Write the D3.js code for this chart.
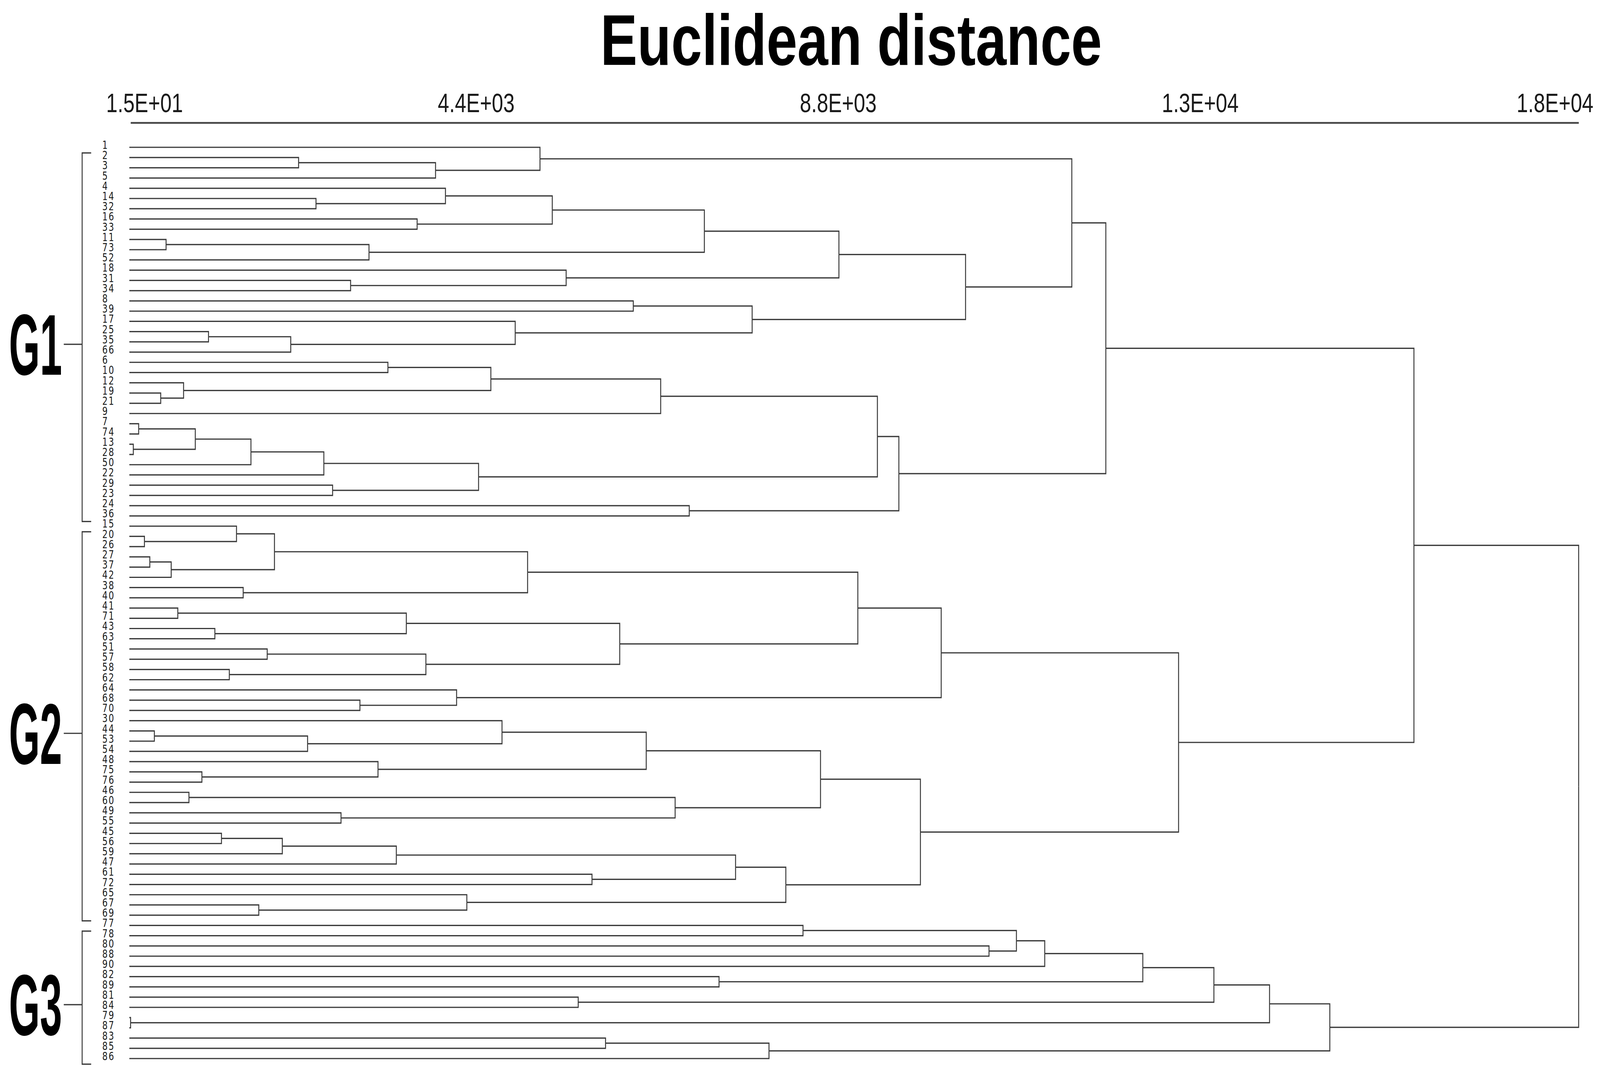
<!DOCTYPE html>
<meta charset="utf-8">
<style>
html, body { margin: 0; padding: 0; background: #fff; overflow: hidden; }
svg { display: block; width: 100vw; height: 100vh; }
.link { fill: none; stroke: #3a3a3a; stroke-width: 3.2; }
.bracket { fill: none; stroke: #3a3a3a; stroke-width: 3.2; }
.axis path { stroke: #444; stroke-width: 4.5; }
.axis text { font-family: "Liberation Sans", Arial, sans-serif; font-size: 68px; fill: #1a1a1a; }
.leaf { font-family: "DejaVu Sans", sans-serif; font-size: 28px; fill: #1a1a1a; letter-spacing: 3px; }
.title { font-family: "Liberation Sans", Arial, sans-serif; font-weight: bold; font-size: 184px; fill: #000; }
.group { font-family: "Liberation Sans", Arial, sans-serif; font-weight: bold; font-size: 220px; fill: #000; }
</style>
<body>
<script src="https://d3js.org/d3.v7.min.js"></script>
<script>
// leaf order, top to bottom
var leafLabels = [1, 2, 3, 5, 4, 14, 32, 16, 33, 11, 73, 52, 18, 31, 34, 8, 39, 17, 25, 35,
  66, 6, 10, 12, 19, 21, 9, 7, 74, 13, 28, 50, 22, 29, 23, 24, 36,
  15, 20, 26, 27, 37, 42, 38, 40, 41, 71, 43, 63, 51, 57, 58, 62, 64, 68, 70,
  30, 44, 53, 54, 48, 75, 76, 46, 60, 49, 55, 45, 56, 59, 47, 61, 72, 65, 67, 69,
  77, 78, 80, 88, 90, 82, 89, 81, 84, 79, 87, 83, 85, 86];

// merges: [child a, child b, distance]; "cN" = result of merge N
var merges = [
  [2, 3, 2050], ["c0", 5, 3709], [1, "c1", 4974], [14, 32, 2261], [4, "c3", 3829],
  [16, 33, 3486], ["c4", "c5", 5123], [11, 73, 445], ["c7", 52, 2903], ["c6", "c8", 6965],
  [31, 34, 2680], [18, "c10", 5291], ["c9", "c11", 8595], [8, 39, 6104], [25, 35, 959],
  ["c14", 66, 1955], [17, "c15", 4674], ["c13", "c16", 7544], ["c12", "c17", 10129], ["c2", "c18", 11416],
  [6, 10, 3132], [19, 21, 380], [12, "c21", 657], ["c20", "c22", 4379], ["c23", 9, 6436],
  [7, 74, 113], [13, 28, 48], ["c25", "c26", 799], ["c27", 50, 1473], ["c28", 22, 2356],
  [29, 23, 2462], ["c29", "c30", 4230], ["c24", "c31", 9061], [24, 36, 6782], ["c32", "c33", 9321],
  ["c19", "c34", 11828],
  [20, 26, 183], [15, "c36", 1298], [27, 37, 248], ["c38", 42, 507], ["c37", "c39", 1758],
  [38, 40, 1379], ["c40", "c41", 4824], [41, 71, 587], [43, 63, 1036], ["c43", "c44", 3355],
  [51, 57, 1670], [58, 62, 1211], ["c46", "c47", 3592], ["c45", "c48", 5940], ["c42", "c49", 8824],
  [68, 70, 2793], [64, "c51", 3964], ["c50", "c52", 9834], [44, 53, 303], ["c54", 54, 2159],
  [30, "c55", 4514], [75, 76, 879], [48, "c57", 3012], ["c56", "c58", 6261], [46, 60, 722],
  [49, 55, 2564], ["c60", "c61", 6611], ["c59", "c62", 8372], [45, 56, 1116], ["c64", 59, 1853],
  ["c65", 47, 3234], [61, 72, 5604], ["c66", "c67", 7343], [67, 69, 1568], [65, "c69", 4088],
  ["c68", "c70", 7952], ["c63", "c71", 9582], ["c53", "c72", 12709],
  [77, 78, 8160], [80, 88, 10413], ["c74", "c75", 10745], ["c76", 90, 11088], [82, 89, 7143],
  ["c77", "c78", 12276], [81, 84, 5437], ["c79", "c80", 13137], [79, 87, 15], ["c81", "c82", 13811],
  [83, 85, 5768], ["c84", 86, 7748], ["c83", "c85", 14541],
  ["c35", "c73", 15560], ["c87", "c86", 17555]
];

var tickValues = [15, 4400, 8785, 13170, 17555];

var groups = [
  {name: "G1", first: 1, last: 36},
  {name: "G2", first: 15, last: 69},
  {name: "G3", first: 77, last: 86}
];

// drawn in a 5318 x 2746 frame, stretched to fill the window
var W = 5318, H = 2746;
var svg = d3.select("body").append("svg")
    .attr("viewBox", "0 0 " + W + " " + H)
    .attr("preserveAspectRatio", "none");
svg.append("rect").attr("width", W).attr("height", H).attr("fill", "#fff");

var x = d3.scaleLinear().domain([15, 17555]).range([434, 5247]),
    y = d3.scalePoint().domain(leafLabels).range([377, 2709]);

// build the tree
var nodes = {};
leafLabels.forEach(function(l) { nodes[l] = {name: l, h: 0}; });
merges.forEach(function(m, i) {
  nodes["c" + i] = {name: "c" + i, h: m[2], children: [nodes[m[0]], nodes[m[1]]]};
});
var root = d3.hierarchy(nodes["c" + (merges.length - 1)]);
root.eachAfter(function(n) {
  n.py = n.children ? d3.mean(n.children, function(c) { return c.py; }) : y(n.data.name);
});

svg.append("g").selectAll("path")
  .data(root.links())
  .enter().append("path")
    .attr("class", "link")
    .attr("d", function(l) {
      return "M" + x(l.target.data.h) + "," + l.target.py +
             "H" + x(l.source.data.h) + "V" + l.source.py;
    });

// leaf labels
svg.append("g").selectAll("text")
  .data(leafLabels)
  .enter().append("text")
    .attr("class", "leaf")
    .attr("x", 340)
    .attr("y", function(d) { return y(d) + 4; })
    .text(function(d) { return d; });

// axis on top
function fmt(v) {
  var s = v.toExponential(1).toUpperCase().split("E");
  var e = +s[1];
  return s[0] + "E" + (e < 0 ? "-" : "+") + (Math.abs(e) < 10 ? "0" : "") + Math.abs(e);
}
var ax = svg.append("g")
    .attr("class", "axis")
    .attr("transform", "translate(0,314)")
    .call(d3.axisTop(x).tickValues(tickValues).tickSize(0).tickSizeOuter(0).tickPadding(27).tickFormat(fmt));
ax.selectAll(".tick text")
    .attr("x", function(d) { return Math.max(480, Math.min(5168, x(d) - 55)) - x(d); });

svg.append("text")
    .attr("class", "title")
    .attr("x", 2829).attr("y", 166)
    .attr("text-anchor", "middle")
    .text("Euclidean distance");

// group brackets
var step = y.step();
groups.forEach(function(g) {
  var y0 = y(g.first) + 0.55 * step,
      y1 = y(g.last) + 0.55 * step,
      ym = (y0 + y1) / 2 + 18;
  svg.append("path")
      .attr("class", "bracket")
      .attr("d", "M303," + y0 + "H273V" + y1 + "H303M273," + ym + "H212");
  svg.append("text")
      .attr("class", "group")
      .attr("transform", "translate(30," + (ym + 78) + ") scale(0.6,1)")
      .text(g.name);
});
</script>
</body>
